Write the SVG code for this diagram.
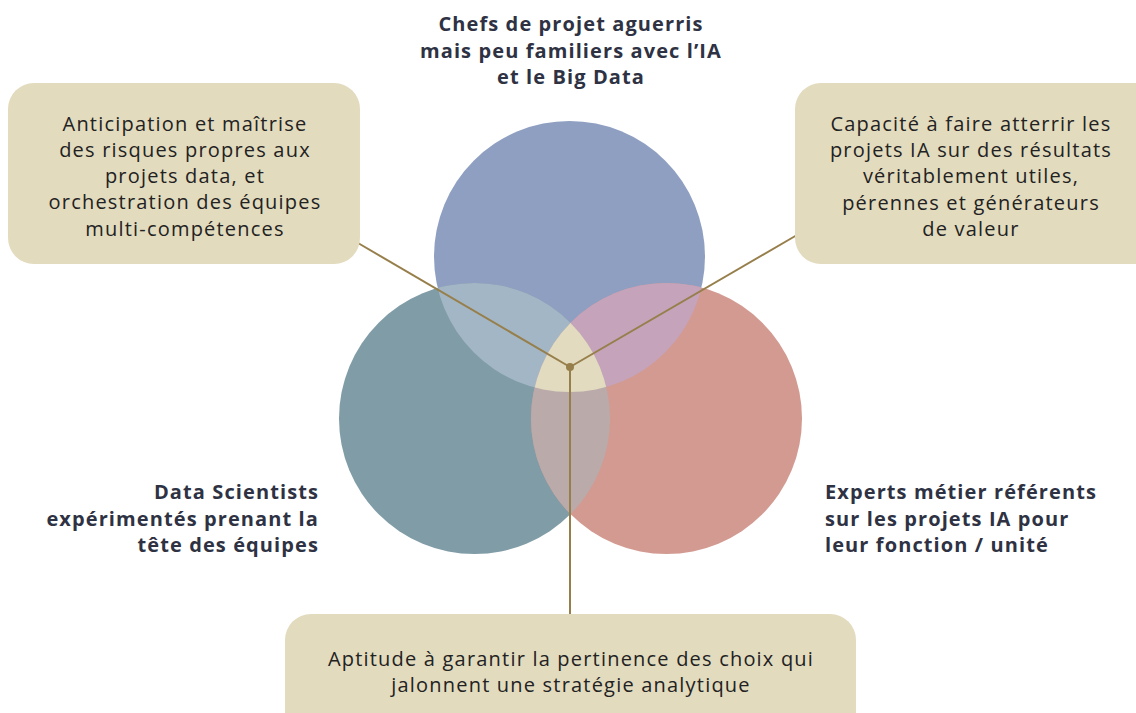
<svg xmlns="http://www.w3.org/2000/svg" width="1136" height="713" viewBox="0 0 1136 713">
<style>
.box{fill:#e2dbbe}
.body{font-family:"Open Sans","Liberation Sans",sans-serif;font-size:20px;letter-spacing:1.2px;fill:#222222;text-anchor:middle}
.head{font-family:"Open Sans","Liberation Sans",sans-serif;font-size:20px;letter-spacing:1.1px;font-weight:bold;fill:#2e3243}
.conn{stroke:#977f4b;stroke-width:2;fill:none}
</style>
<defs>
<clipPath id="cTop"><circle cx="569.5" cy="256.5" r="135.5"/></clipPath>
<clipPath id="cLeft"><circle cx="474.5" cy="418.5" r="135.5"/></clipPath>
</defs>
<rect width="1136" height="713" fill="#ffffff"/>
<g id="venn">
<circle cx="569.5" cy="256.5" r="135.5" fill="#8f9fc2"/>
<circle cx="474.5" cy="418.5" r="135.5" fill="#809ca6"/>
<circle cx="666.5" cy="418.5" r="135.5" fill="#d39a91"/>
<g clip-path="url(#cTop)"><circle cx="474.5" cy="418.5" r="135.5" fill="#a3b6c6"/><circle cx="666.5" cy="418.5" r="135.5" fill="#c5a3bb"/></g>
<g clip-path="url(#cLeft)"><circle cx="666.5" cy="418.5" r="135.5" fill="#baaaaa"/></g>
<g clip-path="url(#cTop)"><g clip-path="url(#cLeft)"><circle cx="666.5" cy="418.5" r="135.5" fill="#e2dbbf"/></g></g>
</g>
<g id="connectors">
<line class="conn" x1="358" y1="243" x2="570" y2="367"/>
<line class="conn" x1="797" y1="235" x2="570" y2="367"/>
<line class="conn" x1="570" y1="367" x2="570" y2="614"/>
<circle cx="570" cy="367" r="4" fill="#977f4b"/>
</g>
<g id="box-left">
<rect class="box" x="8" y="83" width="352" height="181" rx="26"/>
<text class="body"><tspan x="185" y="131">Anticipation et maîtrise</tspan><tspan x="185" y="157">des risques propres aux</tspan><tspan x="185" y="183">projets data, et</tspan><tspan x="185" y="209">orchestration des équipes</tspan><tspan x="185" y="236">multi-compétences</tspan></text>
</g>
<g id="box-right">
<rect class="box" x="795" y="83" width="370" height="181" rx="26"/>
<text class="body"><tspan x="971" y="131">Capacité à faire atterrir les</tspan><tspan x="971" y="157">projets IA sur des résultats</tspan><tspan x="971" y="183">véritablement utiles,</tspan><tspan x="971" y="210">pérennes et générateurs</tspan><tspan x="971" y="236">de valeur</tspan></text>
</g>
<g id="box-bottom">
<rect class="box" x="285" y="614" width="571" height="130" rx="26"/>
<text class="body"><tspan x="571" y="666">Aptitude à garantir la pertinence des choix qui</tspan><tspan x="571" y="692">jalonnent une stratégie analytique</tspan></text>
</g>
<g id="label-top">
<text class="head" text-anchor="middle"><tspan x="571" y="31">Chefs de projet aguerris</tspan><tspan x="571" y="58">mais peu familiers avec l’IA</tspan><tspan x="571" y="84">et le Big Data</tspan></text>
</g>
<g id="label-left">
<text class="head" text-anchor="end"><tspan x="319" y="499">Data Scientists</tspan><tspan x="319" y="526">expérimentés prenant la</tspan><tspan x="319" y="552">tête des équipes</tspan></text>
</g>
<g id="label-right">
<text class="head" text-anchor="start"><tspan x="825" y="499">Experts métier référents</tspan><tspan x="825" y="526">sur les projets IA pour</tspan><tspan x="825" y="552">leur fonction / unité</tspan></text>
</g>
</svg>
